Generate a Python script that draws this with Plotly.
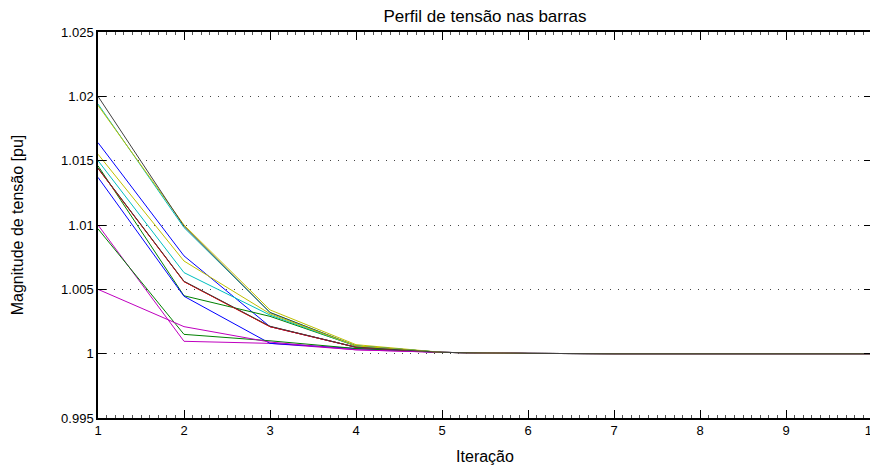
import plotly.graph_objects as go

iteracao = [1, 2, 3, 4, 5, 6, 7, 8, 9, 10]

# Voltage magnitude per bus [pu] for each iteration
barra_01 = [1.0164, 1.0076, 1.0021, 1.0005, 1.0001, 1.00002, 1.0, 1.0, 1.0, 1.0]
barra_02 = [1.0146, 1.0045, 1.0029, 1.0006, 1.0001, 1.00002, 1.0, 1.0, 1.0, 1.0]
barra_03 = [1.0144, 1.0056, 1.0021, 1.0005, 1.0001, 1.00002, 1.0, 1.0, 1.0, 1.0]
barra_04 = [1.0194, 1.0098, 1.0032, 1.0006, 1.0001, 1.00002, 1.0, 1.0, 1.0, 1.0]
barra_05 = [1.0100, 1.00096, 1.0008, 1.0003, 1.0001, 1.00002, 1.0, 1.0, 1.0, 1.0]
barra_06 = [1.0193, 1.0100, 1.0034, 1.0007, 1.0001, 1.00002, 1.0, 1.0, 1.0, 1.0]
barra_07 = [1.0200, 1.0099, 1.0032, 1.0006, 1.0001, 1.00002, 1.0, 1.0, 1.0, 1.0]
barra_08 = [1.0137, 1.00446, 1.0008, 1.0004, 1.0001, 1.00002, 1.0, 1.0, 1.0, 1.0]
barra_09 = [1.0097, 1.0015, 1.0010, 1.0004, 1.0001, 1.00002, 1.0, 1.0, 1.0, 1.0]
barra_10 = [1.0144, 1.0056, 1.0021, 1.0005, 1.0001, 1.00002, 1.0, 1.0, 1.0, 1.0]
barra_11 = [1.0150, 1.0063, 1.0030, 1.0006, 1.0001, 1.00002, 1.0, 1.0, 1.0, 1.0]
barra_12 = [1.0050, 1.0021, 1.0009, 1.0003, 1.0001, 1.00002, 1.0, 1.0, 1.0, 1.0]
barra_13 = [1.0155, 1.0072, 1.0031, 1.0006, 1.0001, 1.00002, 1.0, 1.0, 1.0, 1.0]
barra_14 = [1.01443, 1.00563, 1.00213, 1.0005, 1.0001, 1.00002, 1.0, 1.0, 1.0, 1.0]

barras = [barra_01, barra_02, barra_03, barra_04, barra_05, barra_06, barra_07,
          barra_08, barra_09, barra_10, barra_11, barra_12, barra_13, barra_14]

y_tickvals = [0.995, 1.0, 1.005, 1.01, 1.015, 1.02, 1.025]
y_ticktext = ["0.995", "1", "1.005", "1.01", "1.015", "1.02", "1.025"]
x_tickvals = [1, 2, 3, 4, 5, 6, 7, 8, 9, 10]

cores = ["#0000FF", "#008000", "#FF0000", "#00BFBF", "#BF00BF", "#BFBF00", "#404040"]

fig = go.Figure()
for i, v in enumerate(barras):
    fig.add_trace(go.Scatter(
        x=iteracao, y=v, mode="lines",
        line=dict(color=cores[i % len(cores)], width=1),
        name=f"Barra {i+1}", showlegend=False,
    ))

font_family = "Liberation Sans, Arial, sans-serif"

W, H = 870, 457  # page body has an 8px offset

fig.update_layout(
    width=W, height=H,
    margin=dict(l=90, r=6, t=24, b=47, autoexpand=False),
    paper_bgcolor="white", plot_bgcolor="white",
    font=dict(family=font_family, size=13, color="black"),
    title=dict(text="Perfil de tensão nas barras", x=477/W, xanchor="center",
               y=1 - 8/H, yanchor="middle", yref="container",
               font=dict(size=17, color="black"), automargin=False),
    showlegend=False,
)

fig.update_xaxes(
    range=[1, 10], tickvals=x_tickvals, ticks="inside", ticklen=8, tickwidth=1,
    tickcolor="black", showline=True, linecolor="black", linewidth=1.5,
    mirror="ticks", showgrid=False, zeroline=False, automargin=False,
    tickfont=dict(size=13), ticklabeloverflow="allow",
    minor=dict(ticks="inside", ticklen=3, dtick=0.1, tickcolor="#555", showgrid=False),
    title=dict(text="Iteração", font=dict(size=16), standoff=13),
)
fig.update_yaxes(
    range=[0.995, 1.025], tickvals=y_tickvals, ticktext=y_ticktext,
    ticks="inside", ticklen=8, tickwidth=1, tickcolor="black",
    showline=True, linecolor="black", linewidth=1.5, mirror="ticks",
    showgrid=True, gridcolor="#444", gridwidth=1, griddash="1px,7px",
    zeroline=False, automargin=False, tickfont=dict(size=13),
    ticklabeloverflow="allow",
    title=dict(text="Magnitude de tensão [pu]", font=dict(size=16), standoff=34),
)

fig.write_html("out.html")
